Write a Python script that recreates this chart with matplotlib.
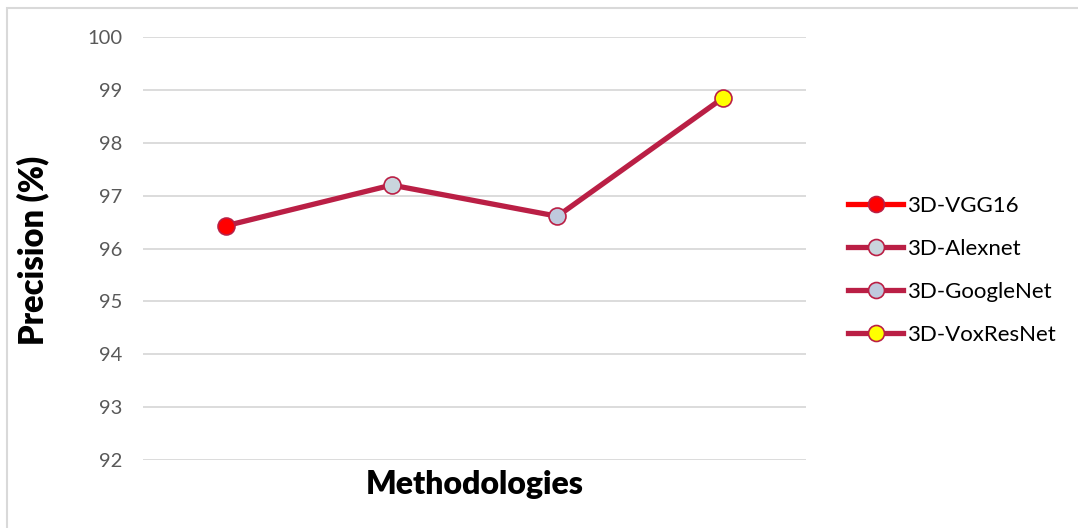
import matplotlib.pyplot as plt
from matplotlib.lines import Line2D
from matplotlib.patches import Rectangle

methods = ['3D-VGG16', '3D-Alexnet', '3D-GoogleNet', '3D-VoxResNet']
precision = [96.43, 97.20, 96.61, 98.85]
face_colors = ['#FF0000', '#C9D5DD', '#BFC9DD', '#FFFF00']
legend_lines = ['#FF0000', '#BA1F45', '#BA1F45', '#BA1F45']
yticks = [92, 93, 94, 95, 96, 97, 98, 99, 100]

line_c = '#BA1F45'
plt.rcParams['font.family'] = ['Lato', 'DejaVu Sans']

fig = plt.figure(figsize=(10.78, 5.28), dpi=100)
ax = fig.add_axes([0.1327, 0.1288, 0.615, 0.8011])

x = list(range(len(methods)))
ax.plot(x, precision, color=line_c, lw=3.8, zorder=2)
for i in x:
    ax.plot(x[i], precision[i], 'o', ms=12.2, mfc=face_colors[i], mec=line_c, mew=1.2, zorder=3)

ax.set_xlim(-0.5, 3.5)
ax.set_ylim(92, 100)
ax.set_yticks(yticks)
ax.set_yticklabels([str(v) for v in yticks], fontsize=14.5, color='#595959')
ax.set_xticks([])
ax.tick_params(axis='y', length=0, pad=15)
ax.grid(axis='y', color='#D9D9D9', lw=1.3)
ax.set_axisbelow(True)
for s in ax.spines.values():
    s.set_visible(False)

ax.set_ylabel('Precision (%)', fontsize=23.5, fontweight='heavy')
ax.set_xlabel('Methodologies', fontsize=23, fontweight='heavy')
ax.yaxis.set_label_coords(-0.142, 0.496)
ax.xaxis.set_label_coords(0.5, -0.024)

handles = [Line2D([0], [0], color=legend_lines[i], lw=3.8, marker='o', ms=11.5,
                  mfc=face_colors[i], mec=line_c, mew=1.2) for i in x]
fig.legend(handles, methods, loc='center left', bbox_to_anchor=(0.768, 0.488),
           frameon=False, fontsize=16, handlelength=2.5, handletextpad=0.15,
           labelspacing=1.04)

fig.patches.append(Rectangle((7 / 1078, -0.05), 1.1, 1 - 8 / 528 + 0.05,
                             transform=fig.transFigure, fill=False,
                             ec='#D9D9D9', lw=1.5))

fig.savefig('out.png', dpi=100)
